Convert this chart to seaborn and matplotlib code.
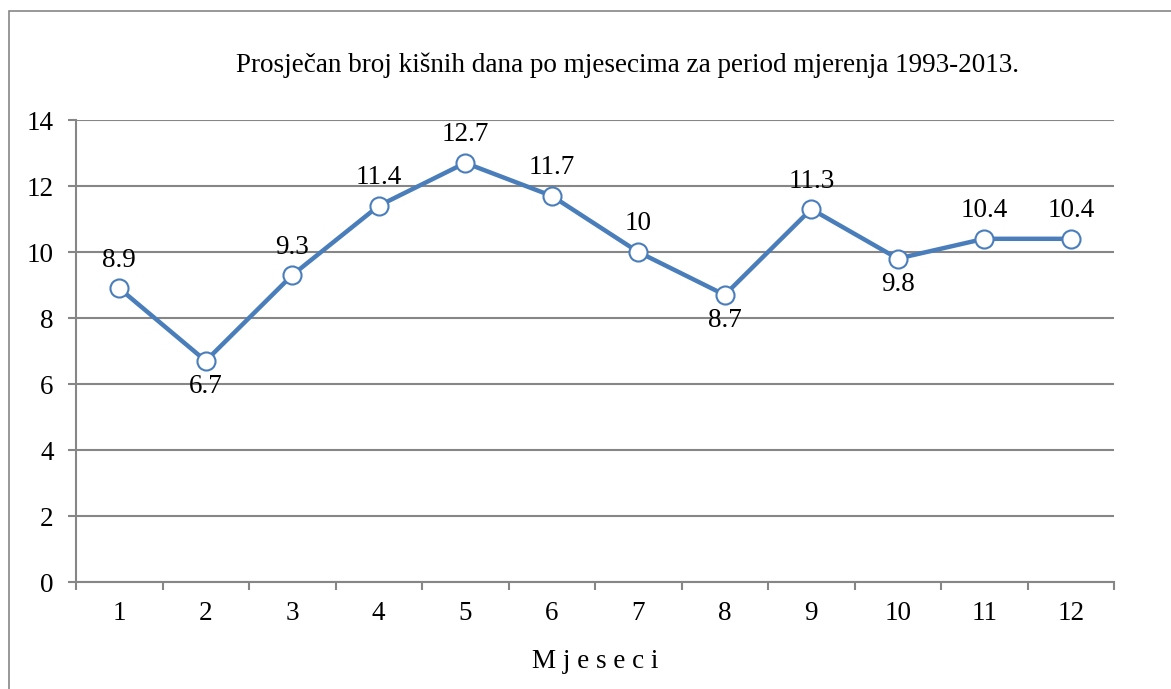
import matplotlib
matplotlib.use("Agg")
import matplotlib.pyplot as plt
import seaborn as sns
import pandas as pd
from matplotlib.patches import Rectangle

months = [1, 2, 3, 4, 5, 6, 7, 8, 9, 10, 11, 12]
rainy_days = [8.9, 6.7, 9.3, 11.4, 12.7, 11.7, 10, 8.7, 11.3, 9.8, 10.4, 10.4]
value_labels = ["8.9", "6.7", "9.3", "11.4", "12.7", "11.7", "10", "8.7", "11.3", "9.8", "10.4", "10.4"]
label_below = [False, True, False, False, False, False, False, True, False, True, False, False]
y_ticks = [0, 2, 4, 6, 8, 10, 12, 14]

title = "Prosječan broj kišnih dana po mjesecima za period mjerenja 1993-2013."
x_title = "M j e s e c i"

df = pd.DataFrame({"Mjesec": months, "Dani": rainy_days})

sns.set_style("white")
plt.rcParams['font.family'] = ['Liberation Serif', 'DejaVu Serif']
plt.rcParams['text.color'] = 'black'
plt.rcParams['xtick.labelcolor'] = 'black'
plt.rcParams['ytick.labelcolor'] = 'black'
plt.rcParams['axes.labelcolor'] = 'black'

grid_col = "#868686"
line_col = "#4a7ebb"
fs = 19.5

fig = plt.figure(figsize=(11.71, 6.89), dpi=100)
ax = fig.add_axes([76/1171, 1 - 582/689, (1114 - 76)/1171, (582 - 120)/689])

# outer chart frame
fig.patches.append(Rectangle((9/1171, -0.1), 1.2, 1 - 11/689 + 0.1, transform=fig.transFigure,
                             fill=False, edgecolor=grid_col, linewidth=1.2))

sns.lineplot(data=df, x="Mjesec", y="Dani", ax=ax, color=line_col, linewidth=3.2,
             marker="o", markersize=13, markerfacecolor="white", markeredgecolor=line_col,
             markeredgewidth=1.5, zorder=3)

for m, v, lab, below in zip(months, rainy_days, value_labels, label_below):
    off = -26 if below else 28
    ax.annotate(lab, (m, v), xytext=(0, off), textcoords="offset pixels",
                ha="center", va="center", fontsize=fs)

ax.set_xlim(0.5, 12.5)
ax.set_ylim(0, 14)
ax.set_yticks(y_ticks)
ax.set_xticks(months)
ax.set_xticks([m - 0.5 for m in months] + [12.5], minor=True)
ax.tick_params(axis="x", which="major", bottom=True, length=0, pad=14, labelsize=fs)
ax.tick_params(axis="x", which="minor", bottom=True, length=6, width=1.5, color=grid_col, direction="out")
ax.tick_params(axis="y", which="major", left=True, length=6, width=1.5, color=grid_col,
               direction="out", pad=10, labelsize=fs)
ax.yaxis.grid(True, color=grid_col, linewidth=1.5)
ax.set_axisbelow(True)
for s in ["top", "right"]:
    ax.spines[s].set_visible(False)
for s in ["left", "bottom"]:
    ax.spines[s].set_color(grid_col)
    ax.spines[s].set_linewidth(1.5)

ax.set_xlabel(x_title, fontsize=fs, labelpad=16)
ax.set_ylabel("")
fig.text(628/1171, 1 - 65/689, title, ha="center", va="center", fontsize=fs)

fig.savefig("out.png", dpi=100)
